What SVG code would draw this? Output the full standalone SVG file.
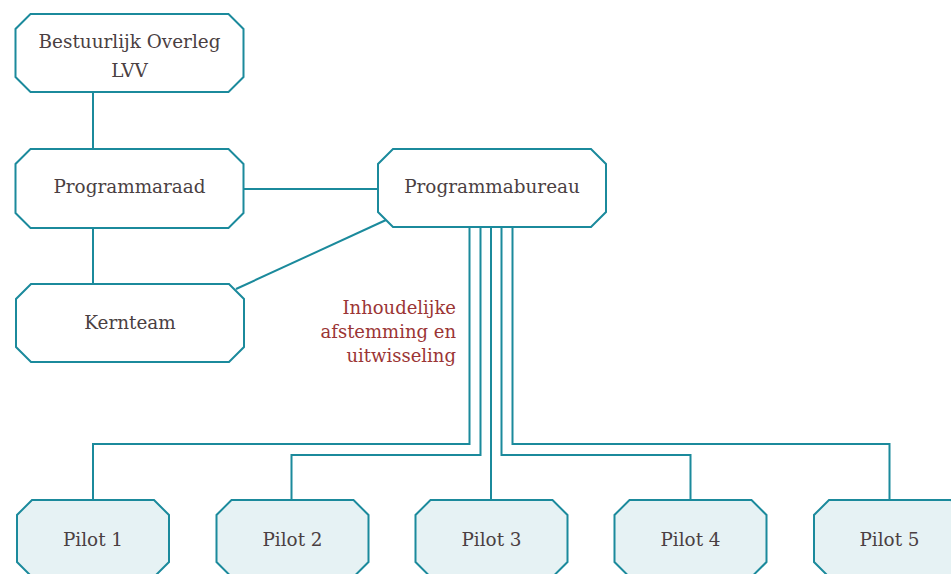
<svg xmlns="http://www.w3.org/2000/svg" width="951" height="574" viewBox="0 0 951 574">
<style>
.box{fill:#ffffff;stroke:#1b8a9c;stroke-width:2}
.pilot{fill:#e6f2f4;stroke:#1b8a9c;stroke-width:2}
.con{fill:none;stroke:#1b8a9c;stroke-width:2}
.t{font-family:"DejaVu Serif","Liberation Serif",serif;font-size:18.4px;fill:#4a4042;text-anchor:middle}
.lbl{font-family:"DejaVu Serif","Liberation Serif",serif;font-size:18px;fill:#9b3535;text-anchor:end}
</style>
<rect width="951" height="574" fill="#ffffff"/>
<g id="connectors">
<path class="con" d="M93,92 V149"/>
<path class="con" d="M93,228 V284"/>
<path class="con" d="M243.5,189 H378"/>
<path class="con" d="M386,220 L236,289"/>
<path class="con" d="M469.5,227 V444 H93 V500"/>
<path class="con" d="M480.5,227 V455 H291.5 V500"/>
<path class="con" d="M491,227 V500"/>
<path class="con" d="M501.5,227 V455 H690.5 V500"/>
<path class="con" d="M512.5,227 V444 H889.5 V500"/>
</g>
<g id="bestuurlijk">
<path class="box" d="M30.5,14 H228.5 L243.5,29 V77 L228.5,92 H30.5 L15.5,77 V29 Z"/>
<text class="t" x="129.5" y="48">Bestuurlijk Overleg</text>
<text class="t" x="129.5" y="77">LVV</text>
</g>
<g id="programmaraad">
<path class="box" d="M30.5,149 H228.5 L243.5,164 V213 L228.5,228 H30.5 L15.5,213 V164 Z"/>
<text class="t" x="129.5" y="193">Programmaraad</text>
</g>
<g id="kernteam">
<path class="box" d="M31,284 H229 L244,299 V347 L229,362 H31 L16,347 V299 Z"/>
<text class="t" x="130" y="329">Kernteam</text>
</g>
<g id="programmabureau">
<path class="box" d="M393,149 H591 L606,164 V212 L591,227 H393 L378,212 V164 Z"/>
<text class="t" x="492" y="193">Programmabureau</text>
</g>
<g id="label">
<text class="lbl" x="456" y="314">Inhoudelijke</text>
<text class="lbl" x="456" y="338">afstemming en</text>
<text class="lbl" x="456" y="362">uitwisseling</text>
</g>
<g id="pilot1">
<path class="pilot" d="M32,500 H154 L169,515 V562 L154,577 H32 L17,562 V515 Z"/>
<text class="t" x="93" y="546">Pilot 1</text>
</g>
<g id="pilot2">
<path class="pilot" d="M231.5,500 H353.5 L368.5,515 V562 L353.5,577 H231.5 L216.5,562 V515 Z"/>
<text class="t" x="292.5" y="546">Pilot 2</text>
</g>
<g id="pilot3">
<path class="pilot" d="M430.5,500 H552.5 L567.5,515 V562 L552.5,577 H430.5 L415.5,562 V515 Z"/>
<text class="t" x="491.5" y="546">Pilot 3</text>
</g>
<g id="pilot4">
<path class="pilot" d="M629.5,500 H751.5 L766.5,515 V562 L751.5,577 H629.5 L614.5,562 V515 Z"/>
<text class="t" x="690.5" y="546">Pilot 4</text>
</g>
<g id="pilot5">
<path class="pilot" d="M829,500 H951 L966,515 V562 L951,577 H829 L814,562 V515 Z"/>
<text class="t" x="889.5" y="546">Pilot 5</text>
</g>
</svg>
